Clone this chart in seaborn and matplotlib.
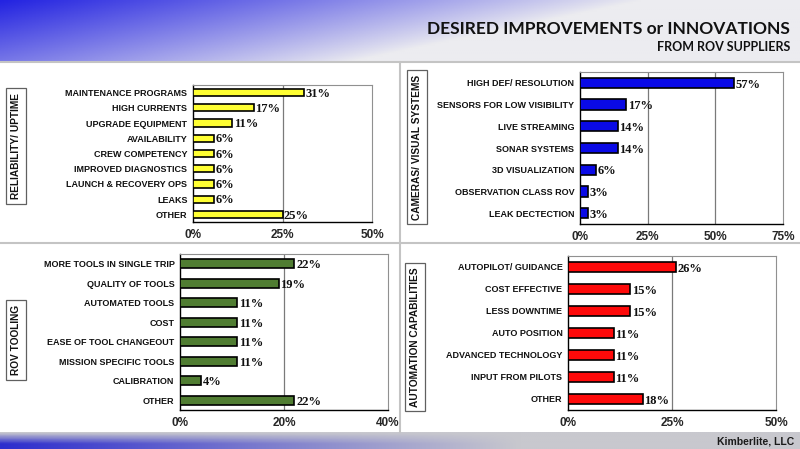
import numpy as np
import matplotlib
matplotlib.use('Agg')
import matplotlib.pyplot as plt
import seaborn as sns

# ---- data ----
reliability_labels = ['MAINTENANCE PROGRAMS', 'HIGH CURRENTS', 'UPGRADE EQUIPMENT', 'AVAILABILITY',
                      'CREW COMPETENCY', 'IMPROVED DIAGNOSTICS', 'LAUNCH & RECOVERY OPS', 'LEAKS', 'OTHER']
reliability_values = [31, 17, 11, 6, 6, 6, 6, 6, 25]
reliability_ticks = [0, 25, 50]

camera_labels = ['HIGH DEF/ RESOLUTION', 'SENSORS FOR LOW VISIBILITY', 'LIVE STREAMING', 'SONAR SYSTEMS',
                 '3D VISUALIZATION', 'OBSERVATION CLASS ROV', 'LEAK DECTECTION']
camera_values = [57, 17, 14, 14, 6, 3, 3]
camera_ticks = [0, 25, 50, 75]

tooling_labels = ['MORE TOOLS IN SINGLE TRIP', 'QUALITY OF TOOLS', 'AUTOMATED TOOLS', 'COST',
                  'EASE OF TOOL CHANGEOUT', 'MISSION SPECIFIC TOOLS', 'CALIBRATION', 'OTHER']
tooling_values = [22, 19, 11, 11, 11, 11, 4, 22]
tooling_ticks = [0, 20, 40]

automation_labels = ['AUTOPILOT/ GUIDANCE', 'COST EFFECTIVE', 'LESS DOWNTIME', 'AUTO POSITION',
                     'ADVANCED TECHNOLOGY', 'INPUT FROM PILOTS', 'OTHER']
automation_values = [26, 15, 15, 11, 11, 11, 18]
automation_ticks = [0, 25, 50]

sns.set_theme(style='white')
plt.rcParams['font.family'] = ['Liberation Sans', 'DejaVu Sans']

W, H = 800, 449
fig = plt.figure(figsize=(8, 4.49), dpi=100)
fig.patch.set_facecolor('white')


def px_axes(left, top, right, bottom):
    return fig.add_axes([left / W, 1 - bottom / H, (right - left) / W, (bottom - top) / H])


# background: header gradient, footer band, panel dividers
bg = fig.add_axes([0, 0, 1, 1], zorder=-5)
xx, yy = np.meshgrid(np.linspace(0, W, 400), np.linspace(0, 62, 40))
b = np.clip(1 - (xx / 640 + 0.45 * yy / 62), 0, 1)[..., None] ** 0.9
blue = np.array([35, 35, 225]) / 255
light = np.array([236, 236, 240]) / 255
bg.imshow(b * blue + (1 - b) * light, extent=(0, W, 62, 0), aspect='auto', zorder=0)

xx2, yy2 = np.meshgrid(np.linspace(0, W, 400), np.linspace(0, 1, 12))
b2 = np.clip(1 - xx2 / 520, 0, 1)[..., None] * np.clip(yy2 * 1.4, 0, 1)[..., None]
gray = np.array([200, 200, 206]) / 255
blue2 = np.array([45, 45, 205]) / 255
bg.imshow(b2 * blue2 + (1 - b2) * gray, extent=(0, W, H, 432), aspect='auto', zorder=0)

bg.plot([0, W], [62, 62], color='#c4c4c4', lw=1.5)
bg.plot([0, W], [243, 243], color='#c4c4c4', lw=1.5)
bg.plot([400, 400], [62, 432], color='#c4c4c4', lw=1.5)
bg.set_xlim(0, W)
bg.set_ylim(H, 0)
bg.axis('off')


def draw_panel(ax, labels, values, ticks, color, title, title_xy):
    n = len(labels)
    sns.barplot(x=values, y=labels, orient='h', color=color, saturation=1,
                edgecolor='black', linewidth=1.2, width=0.48, ax=ax, zorder=3)
    xmax = ticks[-1]
    ax.set_xlim(0, xmax)
    ax.set_ylim(n - 0.5, -0.5)
    for t in ticks[1:-1]:
        ax.axvline(t, color='#7a7a7a', lw=0.9, zorder=1)
    for i, v in enumerate(values):
        ax.text(v + xmax * 0.008, i + 0.08, f'{v}%', va='center', ha='left',
                family=['Liberation Serif', 'DejaVu Serif'], weight='bold', size=9, color='#111111')
    ax.set_xticks(ticks)
    ax.set_xticklabels([f'{t}%' for t in ticks], weight='bold', size=8.5)
    ax.set_yticks(np.arange(-0.5, n), minor=True)
    ax.tick_params(axis='y', which='major', length=0, pad=4, labelsize=6.5)
    ax.tick_params(axis='y', which='minor', length=3, width=0.8, color='black', direction='out')
    ax.tick_params(axis='x', length=3, width=0.8, color='black', direction='out', pad=2)
    for lab in ax.get_yticklabels():
        lab.set_fontweight('bold')
        lab.set_color('#111111')
    ax.set_xlabel('')
    ax.set_ylabel('')
    for side in ['left', 'bottom']:
        ax.spines[side].set_color('black')
        ax.spines[side].set_linewidth(1)
    for side in ['top', 'right']:
        ax.spines[side].set_color('#909090')
        ax.spines[side].set_linewidth(0.8)
    fig.text(title_xy[0] / W, 1 - title_xy[1] / H, title, rotation=90, ha='center', va='center',
             weight='bold', size=7.3, color='#111111',
             bbox=dict(boxstyle='square,pad=0.45', fc='white', ec='#606060', lw=0.9))


draw_panel(px_axes(193, 85, 372, 222), reliability_labels, reliability_values, reliability_ticks,
           '#FFFF33', 'RELIABILITY/ UPTIME', (16, 146))
draw_panel(px_axes(580, 72, 783, 224), camera_labels, camera_values, camera_ticks,
           '#0A0AE6', 'CAMERAS/ VISUAL SYSTEMS', (417, 147))
draw_panel(px_axes(180, 254, 388, 410), tooling_labels, tooling_values, tooling_ticks,
           '#507D32', 'ROV TOOLING', (16, 340))
draw_panel(px_axes(568, 256, 776, 410), automation_labels, automation_values, automation_ticks,
           '#FF0A0A', 'AUTOMATION CAPABILITIES', (415, 337))

fig.text(790 / W, 1 - 29 / H, 'DESIRED IMPROVEMENTS or INNOVATIONS', ha='right', va='center',
         family=['Lato', 'DejaVu Sans'], weight='bold', size=12.5, color='#111111')
fig.text(790 / W, 1 - 47 / H, 'FROM ROV SUPPLIERS', ha='right', va='center',
         family=['Lato', 'DejaVu Sans'], weight='bold', size=9, color='#111111')
fig.text(794 / W, 1 - 441 / H, 'Kimberlite, LLC', ha='right', va='center',
         weight='bold', size=7.5, color='#1a1a1a')

fig.savefig('out.png', dpi=100)
